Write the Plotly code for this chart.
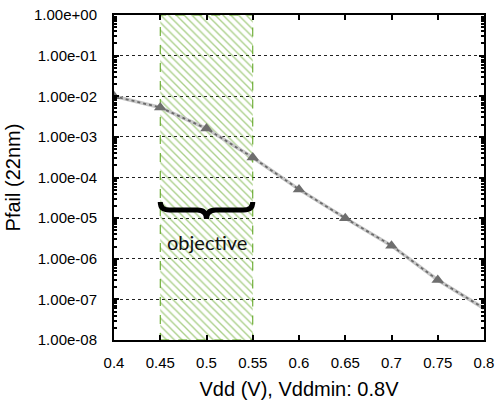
import plotly.graph_objects as go

vdd = [0.40, 0.45, 0.50, 0.55, 0.60, 0.65, 0.70, 0.75, 0.80]
pfail = [1.0e-2, 5.3e-3, 1.6e-3, 3.1e-4, 5.1e-5, 1.0e-5, 2.1e-6, 3.0e-7, 6.0e-8]
show_marker = [True, True, True, True, True, True, True, True, False]

objective_lo = 0.45
objective_hi = 0.55
y_lo, y_hi = 1e-8, 1e0

ytickvals = [10.0 ** (-k) for k in range(0, 9)]
yticktext = ["1.00e+00"] + ["1.00e-%02d" % k for k in range(1, 9)]
xtickvals = [0.4, 0.45, 0.5, 0.55, 0.6, 0.65, 0.7, 0.75, 0.8]
xticktext = ["0.4", "0.45", "0.5", "0.55", "0.6", "0.65", "0.7", "0.75", "0.8"]

green = "#56a014"

W, H = 497, 403
ML, MR, MT, MB = 114, 13, 15, 63
plot_h = H - MT - MB


def ypaper(px):
    return (H - MB - px) / plot_h


fig = go.Figure()

# hatched objective region
fig.add_trace(go.Scatter(
    x=[objective_lo, objective_hi, objective_hi, objective_lo, objective_lo],
    y=[y_lo, y_lo, y_hi, y_hi, y_lo],
    mode="lines", fill="toself",
    fillcolor="rgba(255,255,255,0)",
    fillpattern=dict(shape="\\", fgcolor=green, bgcolor="rgba(255,255,255,0)",
                     size=5.5, solidity=0.25),
    line=dict(color=green, width=1, dash="dash"),
    hoverinfo="skip", showlegend=False,
))

# light under-line
fig.add_trace(go.Scatter(
    x=vdd, y=pfail, mode="lines",
    line=dict(color="#c8c8c8", width=3.5),
    showlegend=False, hoverinfo="skip",
))
# dotted dark line
fig.add_trace(go.Scatter(
    x=vdd, y=pfail, mode="lines",
    line=dict(color="#6a6a6a", width=1.8, dash="dot"),
    showlegend=False,
))
# markers
fig.add_trace(go.Scatter(
    x=[v for v, s in zip(vdd, show_marker) if s],
    y=[p for p, s in zip(pfail, show_marker) if s],
    mode="markers",
    marker=dict(symbol="triangle-up", size=11, color="#6e6e6e"),
    showlegend=False,
))

# curly brace
x0, x1, xm = objective_lo, objective_hi, (objective_lo + objective_hi) / 2
d = 0.01
yt, yb, ytip = ypaper(202), ypaper(210), ypaper(219)
path = (f"M {x0},{yt} Q {x0},{yb} {x0 + d},{yb} L {xm - d},{yb} "
        f"Q {xm},{yb} {xm},{ytip} Q {xm},{yb} {xm + d},{yb} "
        f"L {x1 - d},{yb} Q {x1},{yb} {x1},{yt}")
fig.add_shape(type="path", path=path, xref="x", yref="paper",
              line=dict(color="black", width=5))

fig.add_annotation(x=xm, y=ypaper(242), xref="x", yref="paper",
                   yanchor="middle",
                   text="objective", showarrow=False,
                   font=dict(family="Lato", size=20, color="#111111"))

fig.update_layout(
    width=W, height=H,
    margin=dict(l=ML, r=MR, t=MT, b=MB),
    plot_bgcolor="white", paper_bgcolor="white",
    font=dict(family="Liberation Sans", color="black"),
)
fig.update_xaxes(
    range=[0.4, 0.8], tickvals=xtickvals, ticktext=xticktext,
    ticks="inside", ticklen=5, tickwidth=1.5, tickcolor="black",
    showline=True, linecolor="black", linewidth=2, mirror="ticks",
    showgrid=False, zeroline=False, automargin=False,
    tickfont=dict(size=15), ticklabelstandoff=8,
    title=dict(text="Vdd (V), Vddmin: 0.8V", font=dict(size=20), standoff=12),
)
fig.update_yaxes(
    type="log", range=[-8, 0], tickvals=ytickvals, ticktext=yticktext,
    ticks="inside", ticklen=5, tickwidth=1.5, tickcolor="black",
    showline=True, linecolor="black", linewidth=2, mirror="ticks",
    showgrid=True, gridcolor="#222222", griddash="dot", gridwidth=1,
    zeroline=False, automargin=False,
    minor=dict(ticks="inside", ticklen=3, tickcolor="black", showgrid=False,
               dtick="D1"),
    tickfont=dict(size=15), ticklabelstandoff=12,
    title=dict(text="Pfail (22nm)", font=dict(size=20), standoff=8),
)

fig.write_html("out.html")
